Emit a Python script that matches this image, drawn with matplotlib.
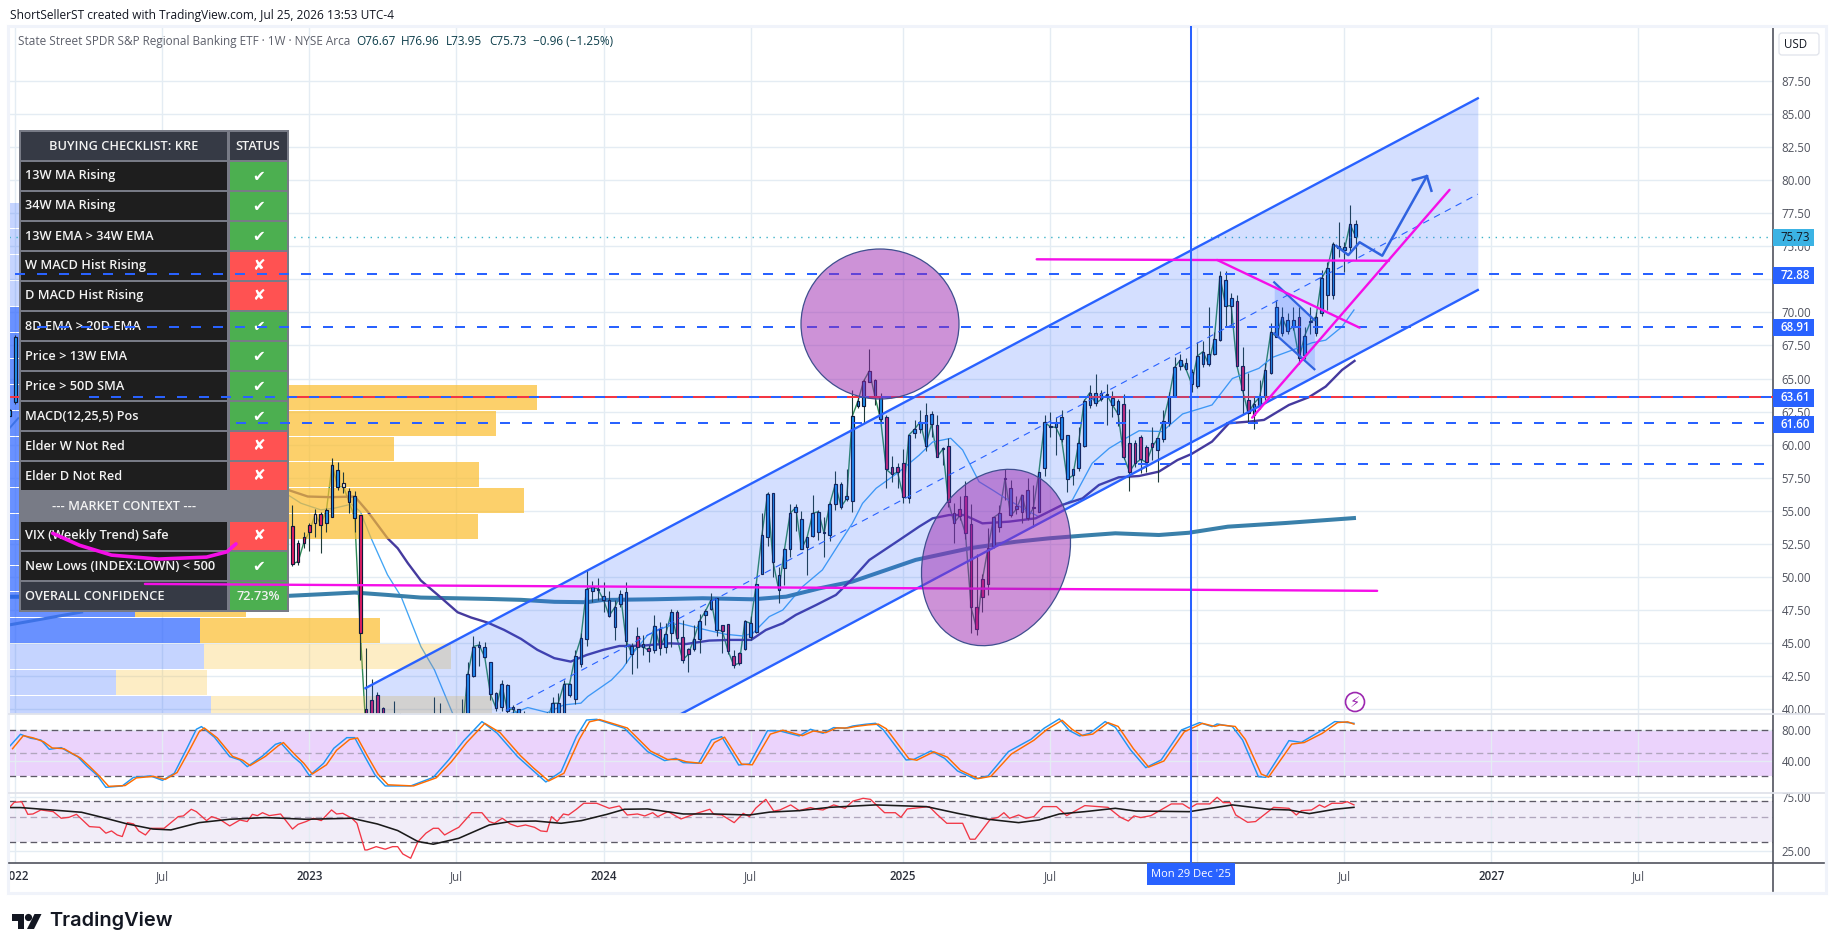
import matplotlib
matplotlib.use("Agg")
import matplotlib.pyplot as plt
from matplotlib.patches import Rectangle, Ellipse, Circle, Polygon, FancyBboxPatch
from matplotlib.transforms import Bbox

plt.rcParams['font.family'] = ['Open Sans', 'DejaVu Sans']

# ---------- weekly candles ----------
candle_weeks = [-1, 0] + list(range(49, 238))
opens = [62.60, 63.20,
 53.86,52.55,53.00,53.91,54.06,54.74,54.06,54.56,58.07,57.09,
 56.50,56.10,54.67,40.00,40.70,41.10,40.10,38.00,38.20,38.50,
 37.60,37.00,36.50,36.00,37.00,38.60,39.60,38.90,37.90,38.10,
 38.00,38.00,42.50,44.74,44.74,43.55,41.20,40.20,41.80,40.15,
 40.00,39.50,38.50,38.90,38.30,38.90,39.20,39.70,39.60,41.10,
 40.80,43.40,45.30,48.97,49.00,48.54,48.26,46.25,47.96,48.84,
 44.80,45.50,44.90,44.60,44.48,46.07,44.73,45.74,47.38,45.49,
 44.53,44.53,45.34,47.10,47.60,48.39,46.34,46.44,44.03,44.28,
 44.53,45.49,45.87,50.20,53.00,56.32,50.12,50.65,52.10,54.89,
 54.36,52.29,53.12,53.42,53.40,53.17,55.50,57.03,56.10,55.77,
 62.95,62.95,64.76,64.89,63.63,62.06,58.30,58.29,58.60,56.00,
 60.90,61.16,62.24,62.30,61.49,59.67,59.92,54.80,55.10,56.14,
 53.97,47.70,48.46,49.44,52.36,53.80,57.37,56.70,55.36,54.88,
 56.57,55.25,54.93,58.26,61.36,61.73,62.06,60.70,58.13,58.21,
 59.92,63.00,63.88,63.93,63.75,63.50,63.30,63.07,60.10,60.10,
 60.55,59.85,60.15,59.59,60.40,61.66,63.68,65.97,66.15,65.50,
 64.44,66.08,66.83,66.83,67.91,72.45,71.06,70.84,65.97,63.38,
 62.25,62.93,63.58,65.40,70.40,68.47,69.42,69.43,69.63,66.78,
 69.25,68.47,69.93,71.32,71.32,75.00,74.97,74.97,76.67]
highs = [62.70, 68.30,
 55.45,52.80,53.43,54.06,55.12,54.94,55.20,58.97,58.70,57.90,
 56.70,56.50,54.70,44.61,42.30,41.30,40.20,39.50,40.60,39.70,
 38.50,38.30,37.50,37.50,39.00,40.96,40.50,39.60,38.90,39.70,
 40.80,43.60,45.55,45.17,45.10,43.55,41.30,42.20,41.90,40.30,
 40.05,39.90,39.50,39.60,39.30,39.80,40.96,41.20,42.20,42.00,
 44.50,45.80,50.53,49.70,49.90,49.65,48.90,48.26,49.00,49.65,
 45.00,46.25,45.60,44.85,47.13,46.60,46.50,47.55,47.50,46.75,
 44.60,46.40,47.20,47.55,48.76,48.40,46.34,46.45,44.48,44.30,
 46.75,47.05,49.50,54.80,56.45,56.37,50.78,52.17,55.50,55.50,
 55.00,53.00,56.20,55.06,54.56,55.70,58.00,57.20,58.13,64.13,
 63.60,65.00,67.23,65.00,63.88,62.24,59.17,58.60,59.67,60.73,
 61.86,62.60,63.12,62.54,62.24,59.85,60.48,55.60,56.10,57.25,
 55.50,51.70,50.20,53.67,54.55,55.44,58.16,57.33,56.10,56.20,
 57.50,56.95,57.96,62.24,62.44,62.10,62.60,60.70,58.13,61.36,
 63.42,64.50,65.34,64.10,64.58,64.08,63.42,63.83,62.67,60.35,
 60.73,59.97,61.30,60.48,62.62,64.00,66.65,66.83,66.58,65.70,
 67.79,67.86,70.43,68.54,73.13,73.13,71.44,71.32,67.40,65.39,
 63.63,64.89,66.15,69.17,70.94,70.43,69.93,70.43,70.43,68.92,
 70.43,70.06,73.20,73.83,75.35,76.86,75.35,78.12,76.96]
lows = [62.20, 63.10,
 50.83,50.90,52.17,51.97,53.00,51.79,53.36,54.50,56.60,56.33,
 54.87,53.36,43.73,37.00,37.50,37.50,37.20,37.00,37.80,37.00,
 36.50,35.80,35.50,35.30,36.60,38.30,38.40,37.40,37.20,37.80,
 37.50,37.80,42.45,43.28,43.90,40.70,39.90,39.90,39.50,39.70,
 38.90,38.20,37.90,38.00,37.70,38.20,38.80,39.40,39.20,40.90,
 40.40,43.20,44.78,48.13,48.26,47.38,47.00,45.24,47.70,43.52,
 42.67,43.10,44.10,43.60,44.23,44.10,44.23,44.73,45.20,43.52,
 42.84,44.40,44.28,46.40,47.50,45.50,44.28,44.20,43.10,43.35,
 44.48,45.20,45.80,50.20,52.37,50.00,48.06,49.40,51.50,53.50,
 52.09,50.15,53.05,52.80,51.50,52.70,55.06,55.10,55.74,54.93,
 62.80,61.66,64.76,63.00,61.61,56.70,57.20,56.70,55.56,55.60,
 60.50,60.90,59.55,60.60,59.09,58.46,55.30,52.54,54.30,52.90,
 45.74,45.60,47.37,48.63,52.20,53.42,55.81,54.50,54.76,54.05,
 54.30,53.80,54.90,57.63,60.60,59.20,60.20,56.44,56.95,58.00,
 59.80,62.75,62.90,63.30,61.48,62.10,61.40,58.90,56.52,58.30,
 57.83,57.96,58.84,57.20,60.20,61.40,63.58,65.65,65.65,64.00,
 64.30,65.90,65.95,66.79,67.85,68.92,69.00,65.97,62.25,61.60,
 61.16,62.70,63.40,65.32,68.17,68.20,68.40,68.70,66.10,66.50,
 68.40,68.20,69.75,70.18,71.00,74.20,73.08,74.60,73.95]
closes = [62.20, 68.10,
 50.99,51.16,52.60,53.43,54.74,53.96,55.04,58.47,56.83,56.83,
 55.65,54.49,45.75,38.30,38.50,38.20,37.80,38.30,39.00,37.60,
 37.00,36.50,36.00,37.00,38.60,39.60,38.90,37.90,38.10,39.30,
 38.20,42.65,44.74,44.86,43.93,41.14,40.08,41.90,39.90,40.05,
 39.50,38.50,38.90,38.30,38.90,39.10,40.45,40.45,41.90,41.90,
 44.03,45.37,49.07,49.22,49.10,48.26,47.08,47.70,48.69,45.19,
 44.20,44.73,44.73,44.43,46.32,44.66,45.67,47.33,45.36,43.73,
 44.15,45.34,46.70,47.40,48.26,46.00,45.92,44.43,43.35,43.47,
 46.65,46.50,49.44,53.15,56.27,51.10,48.99,52.09,54.81,55.26,
 52.09,53.00,54.81,54.94,53.30,55.52,57.03,55.30,55.92,62.17,
 63.30,64.81,65.57,63.63,61.91,58.13,57.76,57.91,56.07,60.73,
 61.16,61.74,59.92,61.56,59.09,59.67,55.64,54.10,54.63,53.30,
 47.70,46.04,49.82,52.21,54.50,54.80,57.45,54.65,55.10,56.20,
 54.48,55.20,57.96,61.68,61.36,61.30,60.40,57.38,57.67,60.10,
 63.30,63.93,63.12,63.42,63.75,63.00,62.30,59.09,57.96,58.58,
 58.89,58.66,59.80,60.48,61.81,63.57,65.85,66.40,65.70,64.60,
 66.70,67.03,66.08,67.96,72.75,70.48,70.51,65.97,64.14,62.37,
 63.10,63.58,65.65,68.50,68.17,69.63,68.62,68.92,66.53,68.24,
 69.25,69.68,72.58,73.33,75.17,74.85,74.72,76.66,75.73]
pink_weeks = [49,50,51,52,54,61,62,63,64,65,68,69,70,71,76,110,112,114,117,118,119,125,126,127,128,
              154,155,156,157,163,165,167,168,169,170,171,172,196,197,198,199,200,201,216,217,218,227]
white_weeks = [53, 58]

# ---------- moving averages (week, price) ----------
ma34_w = [48.2,51.7,55.8,60,62.3,65.8,67.6,69.4,71.7,74.7,78.2,80.6,83.5,86.4,89.4,92.3,95.3,98.2,
          101,103.9,106.8,111,115.7,118.6,122.7,126.3,130.1,132.7,135.7,138,141.6,145.1,148.1,151,
          156.3,159.8,162.2,165.1,167.8,171,175.7,180.4,185.1,188.7,191.6,195.1,198.7,202.2,205.5,208,211.6,214.6,218.1,220.8,225.2,228.7,231.7,234.6,236.8]
ma34_p = [56.58,56.08,56.03,56.08,54.94,52.93,52.17,51.04,49.73,48.64,47.33,46.93,46.55,46.0,45.32,44.49,43.86,43.6,
          44.1,44.48,44.78,44.81,44.98,44.93,45.19,45.24,45.24,45.99,46.5,47.13,47.88,48.64,49.9,51.28,
          52.79,53.8,54.43,54.68,54.68,54.05,54.18,54.43,55.44,55.94,56.95,57.53,57.63,57.96,58.84,59.3,60.23,61.62,61.74,61.87,63.0,63.58,64.39,65.65,66.33]
ma13_w = [48.2,50.5,54,56.4,59.4,61,62.9,65.8,68.2,71.7,74.1,77.3,80,84,87,88.8,90.6,94.1,97,100,101.2,
          105.4,107.4,109.2,111.8,115.1,117.4,119.8,122.7,125.7,128.6,130.4,133.3,135.7,139.2,142.7,145.7,148,
          149.8,152.2,156.3,159.8,162.2,165.4,167.5,170.4,172.8,175.1,178.7,181,185.1,186.9,190.4,193.4,196.3,198.7,
          202.8,206.4,211.6,215.2,219.9,222.3,229.3,231.7,234.6,236.7]
ma13_p = [56.2,55.57,55.07,55.2,55.5,54.94,52.93,50.16,48.52,44.74,42.98,39.7,38.5,38.8,39.6,39.83,40.13,39.75,40.33,40.46,40.96,
          42.21,43.1,44.23,45.61,46.24,46.5,46.24,45.94,45.66,45.54,45.74,47.0,47.5,49.27,50.53,52.54,54.05,
          55.56,56.7,57.96,59.2,60.2,60.48,59.6,57.2,56.57,55.94,55.06,54.55,55.44,55.81,58.59,59.72,60.47,61.05,
          60.99,62.32,63.0,65.0,65.77,66.6,67.7,67.9,68.92,70.18]
ma200_w = [-1.2,48.2,54,60,65.8,71.7,77.6,83.5,89.4,95.3,101,103.9,112.7,121.5,130.4,136.3,142.2,148,159.2,169,176.9,182.8,188.7,194.5,202.2,207.5,214.4,224.7,236.7]
ma200_p = [48.5,48.57,48.69,48.82,48.64,48.44,48.39,48.34,48.27,48.12,48.09,48.26,48.31,48.39,48.31,48.51,49.14,49.65,51.29,52.19,52.66,52.92,53.12,53.3,53.17,53.34,53.8,54.08,54.45]

# ---------- volume profile (row ends, in weeks) ----------
vp_top = 78.27
vp_step = 1.958
vp_buy_end = [8,8,9,10,18,19,20,24,22,20,24,26,24,20,18,21.1,32.6,33.4,17.8,34.6]
vp_sell_end = [18,18,20,20,38,38,38,92.2,85,67,82,90,81.8,32.6,41.5,40.8,64.5,77,33.9,84.3]
vp_in_value_area = [0,0,0,0,1,1,1,1,1,1,1,1,1,1,1,1,1,0,0,0]

# ---------- stochastic ----------
k_w = [-0.9,0.9,2.7,4.5,6,8.1,9.5,11,12.6,14.4,16,18.9,20.9,23.9,26,28.1,30.2,32,32.9,35.2,37.9,39.7,41,43.7,46,46.9,49.1,50.5,52,54.5,56.3,58.6,60,61.8,63.6,65.4,69.9,73.9,76.6,79.3,82.5,85.2,88.8,91.1,93.8,96.5,99.2,101,102.8,105.5,107.7,111.8,114.8,116.8,118.1,120.8,123.1,124.9,127.9,129.8,133,135.2,138.6,140.6,142.8,144.7,146.7,148.1,150.3,152.1,153.5,157.5,158.9,161.9,164.3,166.6,169.7,172,175.6,179.6,181.9,184.6,186.4,188.2,190,192.7,194.5,197.2,199.9,202.6,206.2,209.4,211.6,212.5,215.2,217,219.8,221.1,225.2,227.4,230.6,233.3,235.1,236.7]
k_v = [60,74.8,69.6,67.4,55.2,57.4,51.3,45.7,33.5,21.8,5.7,7.5,18.7,20.5,14.8,24,54.4,81.3,84.8,70.9,45.7,41.3,32.6,46.5,61.7,63.9,45.7,37,20.9,37,56.5,70.4,70.4,45.7,21.8,7.5,7.5,18.7,41.3,66.5,91.3,76.1,45.7,30.5,12.7,26.1,71.7,93.4,94.3,87.8,82.6,52.2,40.5,43.5,37.9,37,67.4,71.7,34.8,36.1,79.5,79.1,72.6,81.3,76.1,83.5,82.6,85.6,87.8,89.1,80.4,41.3,42.2,53.1,43.5,27,16.6,20.5,52.2,68.3,82.6,94.8,79.5,72.6,76.1,91.3,83.9,54.4,31.3,41.3,80.4,90,84.8,88.2,84.8,67.4,19.6,18.7,66.5,64.3,78.2,91.3,90.4,89.1]
d_w = [-0.5,1.4,3.2,5,6.5,8.6,10,11.5,13.1,14.9,16.5,19.4,21.4,24.4,26.5,28.6,30.7,32.5,33.4,35.7,38.4,40.2,41.5,44.2,46.5,47.4,49.6,51,52.5,55,56.8,59.1,60.5,62.3,64.1,65.9,70.4,74.4,77.1,79.8,83,85.7,89.3,91.6,94.3,97,99.7,101.5,103.3,106,108.2,112.3,115.3,117.3,118.6,121.3,123.6,125.4,128.4,130.3,133.5,135.7,139.2,141.1,143.3,145.2,147.2,148.6,150.8,152.6,154,158,159.4,162.4,164.8,167.1,170.2,172.5,176.1,180.1,182.4,185.1,186.9,188.7,190.5,193.2,195,197.7,200.4,203.1,206.7,209.9,212.1,213,215.7,217.5,220.3,221.6,225.7,227.9,231.1,233.8,235.6,236.7]
d_v = [56,73,70,65,57,56,50,44,33,20,7,8,18,20,16,25,53,78,83,70,46,41,34,46,60,64,47,37,23,35,54,68,70,46,23,9,7.5,18,39,64,89,77,47,31,14,24,68,91,94,88,83,53,42,42,39,37,64,71,36,35,75,80,73,79,77,83,83,85,87,88,82,43,41,52,45,28,17,20,49,67,81,93,81,73,75,90,85,56,32,40,78,89,85,87,85,68,23,19,62,64,76,90,91,88]

# ---------- RSI ----------
rsi_w = [-0.9,-0.2,1.1,2.2,3.1,4.5,6.7,8.1,9.5,10.8,13.1,14.9,16,17,18,18.9,19.8,20.9,21.8,23,24,26.3,28.8,29.7,31.1,32,33.8,34.7,36.1,37.9,39.7,41,41.9,42.8,43.7,44.9,46.9,49,50,51.4,52.7,54.1,55.9,56.8,57.9,59.5,60.4,61.8,62.2,63.8,65.4,66.7,67.6,68.5,69.9,71.2,72.6,73.9,74.8,75.9,77.5,78.4,80.7,82.5,83.8,84.7,86.1,87.5,88.8,90.2,91.8,92.9,94,94.8,95.8,96.9,97.8,99.2,100.5,102.8,105,106.8,108.2,110,111.3,112.7,113.6,115.4,117.7,119.9,122.8,123.5,124.9,127.1,128.7,129.8,130.9,132.7,134.1,135.2,137.1,138.6,140.6,141.8,142.8,144.7,146.7,148.1,149.9,151.2,153.7,155.6,156.6,157.7,161.6,162.9,164.7,167.5,168.8,169.7,172.4,173.8,174.8,175.8,177.4,178.7,180.1,181.7,184.1,185.9,189.1,193.2,195.4,196.8,197.8,199,200.8,204.4,206.4,207.6,208.9,211.2,212.5,213.6,214.8,215.8,217.9,219.3,222.5,225.2,226.5,227.4,229.2,230.6,231.5,232.8,234.6,235.5,236.7]
rsi_v = [62.2,67.9,68.8,53.1,53.5,58.1,56.1,49,50,53.1,41.3,40.7,36.1,37.8,34.8,33.7,44.8,43.6,37.8,34.8,39.9,39.9,50.7,51.4,58.9,56.1,46.7,50.7,48,41.9,47.3,45.8,53.1,51.7,54.9,51.7,53.5,39.3,43.3,45.8,49,46.7,58.1,53.5,54.2,49,44.2,25.6,25.6,27.4,26,27.4,27.4,23.6,21.6,30.4,36.1,39.9,39.9,34.8,38.6,40.7,54.9,54.9,45.8,44.2,49,43.6,41.3,42.7,40.7,37.8,37.3,50.7,45.8,53.5,52.4,58.9,66.6,66.6,60.1,63,52.4,53.5,51.4,54.9,50.7,56.1,48.3,53.1,58.9,53.1,52.4,44.8,54.2,50.7,60.1,72.2,56.8,58.1,64.4,57.3,61,58.9,58.1,64.4,60.1,69.7,73.7,72.2,54.9,54.9,50,59.3,62.2,53.5,44.2,44.2,31.9,31.9,48,50,54.9,49,52.4,49,50.7,62.2,62.2,51.7,63.5,61.3,50,46.3,51.4,49.7,51.7,65.7,65.7,60.1,65.7,65.7,75.3,67.5,67.5,52.4,45.1,45.8,61.3,60.1,52.4,57.3,58.1,64.4,61.3,66.6,66.6,68.8,64.4]
rsi_ma_w = [-0.9,0.9,11.7,15.3,19.8,24.3,27.5,32.5,37.9,44.2,51.4,59.5,64,67.6,71.2,73.9,78.4,83.8,87.5,92,96.5,100.1,104.6,107.7,111.8,118.1,123.5,129.8,133.4,138.7,144,152.1,161.1,166.6,172,177.4,181,184.6,189.1,194.5,198.1,207.6,215.2,221.6,225.2,228.8,233.3,236.7]
rsi_ma_v = [61,61,55.4,50,43.6,39.3,38.6,44.8,48,49.7,48,49,43.6,38.1,30.4,28.8,32.5,42.7,45.8,46.3,44.2,46.7,53.1,58.9,59.3,53.5,53.5,52.4,55.6,57.3,61.3,64.4,62.2,54.2,48,44.8,47.3,53.5,56.1,60.1,56.8,56.1,64.4,58.9,58.1,53.9,58.9,61.3]

# ---------- levels, drawings ----------
level_prices = [72.88, 68.91, 63.61, 61.60, 58.57]
level_start_weeks = [0, 3.8, 13, 39, 190.7]
channel_weeks = [61.9, 258.6]
channel_top = [41.59, 86.18]
channel_bottom = [26.95, 71.69]
long_magenta_w, long_magenta_p = [22.9, 240.8], [49.47, 48.95]
neck_magenta_w, neck_magenta_p = [180.6, 242.9], [74.01, 73.9]
down_magenta_w, down_magenta_p = [212.5, 237.7], [73.96, 68.84]
up_magenta_w, up_magenta_p = [218.7, 253.6], [62.04, 79.26]
vix_curve_w = [6.6,11.3,17,25.3,33.8,37.4,39]
vix_curve_p = [53.3,52.4,51.65,51.35,51.5,51.9,52.5]
flag_w = [222.6, 229.7]
flag_top = [72.27, 69.42]
flag_bottom = [68.42, 65.7]
path_w = [233.6, 235.7, 237.7, 241.7, 249.6]
path_p = [75.02, 74.33, 75.3, 74.28, 80.3]
head_w = [247.1, 249.6, 250.4]
head_p = [80.0, 80.3, 79.19]
old_line_w, old_line_p = [-1.13, 11.7], [46.37, 47.35]
old_stub_w, old_stub_p = [-1.13, 0.5], [61.2, 62.0]

tick_weeks = [0,26,52,78,104,130,157,183,209,235,261,287]
tick_labels = ['2022','Jul','2023','Jul','2024','Jul','2025','Jul','','Jul','2027','Jul']
price_ticks = [40,42.5,45,47.5,50,52.5,55,57.5,60,62.5,65,67.5,70,72.5,75,77.5,80,82.5,85,87.5]
price_tags = [(75.73,'#3bb3e4','#131722'),(72.88,'#2962ff','white'),(68.91,'#2962ff','white'),
              (63.61,'#2962ff','white'),(61.60,'#2962ff','white')]

checklist_labels = ['13W MA Rising','34W MA Rising','13W EMA > 34W EMA','W MACD Hist Rising','D MACD Hist Rising',
                    '8D EMA > 20D EMA','Price > 13W EMA','Price > 50D SMA','MACD(12,25,5) Pos','Elder W Not Red','Elder D Not Red']
checklist_ok = [1,1,1,0,0,1,1,1,1,0,0]
context_labels = ['VIX (Weekly Trend) Safe','New Lows (INDEX:LOWN) < 500']
context_ok = [0,1]

# ---------- layout ----------
W, H = 1835, 951
L, R = 9, 1773
XLIM = (-1.13, 310.8)
GRID = '#e4ecf3'
BLUE = '#2962ff'
AXC = '#50535e'
TXT = '#50535e'
MAG = '#f50fe8'

def axbox(top, bot):
    return [L/W, 1-bot/H, (R-L)/W, (bot-top)/H]

fig = plt.figure(figsize=(W/100, H/100), dpi=100, facecolor='white')
ax = fig.add_axes(axbox(27, 714), zorder=1)
ax_st = fig.add_axes(axbox(714, 793), zorder=1)
ax_rs = fig.add_axes(axbox(793, 863), zorder=1)

for a in (ax, ax_st, ax_rs):
    a.set_xlim(*XLIM)
    a.set_xticks(tick_weeks)
    a.grid(True, color=GRID, lw=1.0, zorder=0)
    a.set_axisbelow(True)
    for s in ('top', 'left', 'bottom'):
        a.spines[s].set_visible(False)
    a.spines['right'].set_color(AXC)
    a.spines['right'].set_linewidth(1.2)
    a.yaxis.tick_right()
    a.tick_params(axis='y', length=0, pad=6, labelsize=8.3, labelcolor=TXT)
    a.tick_params(axis='x', length=0, labelbottom=False)

# main pane
ax.set_ylim(39.64, 91.57)
ax.set_yticks(price_ticks)
ax.set_yticklabels([f'{v:.2f}' for v in price_ticks])

vis = [i for i, w in enumerate(candle_weeks) if w >= 49]
ax.plot([candle_weeks[i] for i in vis], [closes[i] for i in vis], color='#2e8b57', lw=1.0, zorder=1.2)
ax.plot(ma13_w, ma13_p, color='#42a5f5', lw=0.95, zorder=1.3)
ax.plot(ma200_w, ma200_p, color='#3a80aa', lw=2.9, zorder=1.4)
ax.plot(ma34_w, ma34_p, color='#453a9e', lw=1.7, zorder=1.5)

for n, (b, s, va) in enumerate(zip(vp_buy_end, vp_sell_end, vp_in_value_area)):
    yc = vp_top - (n + .5) * vp_step
    al = 0.7 if va else 0.27
    ax.barh(yc, b - XLIM[0], left=XLIM[0], height=vp_step*0.96, color='#2962ff', alpha=al, lw=0, zorder=2)
    ax.barh(yc, s - b, left=b, height=vp_step*0.96, color='#fbbd2c', alpha=al, lw=0, zorder=2)
ax.plot(old_line_w, old_line_p, color='#3d72e6', lw=2.2, zorder=2.2)
ax.plot(old_stub_w, old_stub_p, color='#3d72e6', lw=1.4, zorder=2.2)

for w, o, h, l, c in zip(candle_weeks, opens, highs, lows, closes):
    col = '#e91e63' if w in pink_weeks else ('#fdf3dc' if w in white_weeks else '#2196f3')
    ax.vlines(w, l, h, color='#1f3a38', lw=0.8, zorder=3)
    ax.bar(w, max(abs(c-o), 0.08), bottom=min(o, c), width=0.46, color=col, edgecolor='#10183a', lw=0.85, zorder=3.1)

# support level and last-price line sit under the table
ax.hlines(63.61, XLIM[0], XLIM[1], color='#f23645', lw=1.45, zorder=3.5)
ax.hlines(75.73, XLIM[0], XLIM[1], color='#3bb3c9', lw=1.0, linestyles=(0, (1, 4)), zorder=3.5)

# stochastic pane
ax_st.set_ylim(-1.69, 101.2)
ax_st.set_yticks([40, 80])
ax_st.set_yticklabels(['40.00', '80.00'])
ax_st.axhspan(20, 80, color='#9c27f0', alpha=0.2, lw=0, zorder=0.5)
for v, c in ((80, '#5d5a66'), (50, '#b0a6bd'), (20, '#5d5a66')):
    ax_st.axhline(v, color=c, lw=0.95, ls=(0, (5, 3)), zorder=1)
ax_st.plot(k_w, k_v, color='#2196f3', lw=1.05, zorder=2)
ax_st.plot(d_w, d_v, color='#ff6d00', lw=1.05, zorder=2.1)

# RSI pane (log scale)
ax_rs.set_yscale('log')
ax_rs.set_ylim(19.6, 82.2)
ax_rs.minorticks_off()
ax_rs.set_yticks([25, 75])
ax_rs.set_yticklabels(['25.00', '75.00'])
ax_rs.minorticks_off()
ax_rs.axhspan(30, 70, color='#7e57c2', alpha=0.1, lw=0, zorder=0.5)
for v, c in ((70, '#5d5a66'), (50, '#b0a6bd'), (30, '#5d5a66')):
    ax_rs.axhline(v, color=c, lw=0.95, ls=(0, (5, 3)), zorder=1)
ax_rs.plot(rsi_w, rsi_v, color='#f23645', lw=0.95, zorder=2)
ax_rs.plot(rsi_ma_w, rsi_ma_v, color='#1a1a1a', lw=1.15, zorder=2.1)
for t in ax_rs.get_yticklabels():
    t.set_clip_on(True)
    t.set_clip_box(Bbox([[R, H-863], [W, H-793]]))

# time axis labels
ax_rs.tick_params(axis='x', labelbottom=True, pad=5, labelsize=8.3)
ax_rs.set_xticklabels(tick_labels)
for t, lab in zip(ax_rs.get_xticklabels(), tick_labels):
    year = lab.isdigit()
    t.set_color('#2a2e39' if year else TXT)
    t.set_fontweight('semibold' if year else 'normal')
    t.set_clip_on(True)
    t.set_clip_box(Bbox([[L, 0], [R, H]]))

# ---------- pixel overlay 1: table ----------
tb = fig.add_axes([0, 0, 1, 1], zorder=2, facecolor='none')
tb.set_xlim(0, W); tb.set_ylim(H, 0); tb.axis('off')
def rect(a, x0, y0, x1, y1, c, **kw):
    a.add_patch(Rectangle((x0, y0), x1-x0, y1-y0, facecolor=c, edgecolor='none', **kw))
rect(tb, 18.5, 130, 288.5, 612, '#787b86')
XA, XB, XC, XD = 20.5, 227, 229.5, 287
TFS = 9.2
TW = 'semibold'
def row_y(i):
    return 132+30*i, 160+30*i
def cell(i, label, ok=None, left='#1e1e1e'):
    y0, y1 = row_y(i)
    rect(tb, XA, y0, XB, y1, left)
    tb.text(25, (y0+y1)/2, label, color='#f2f2f2', fontsize=TFS, fontweight=TW, va='center', ha='left')
    if ok is not None:
        rect(tb, XC, y0, XD, y1, '#4caf50' if ok else '#ff5252')
        tb.text((XC+XD)/2, (y0+y1)/2, '✔' if ok else '✘', color='white', fontsize=11,
                family='DejaVu Sans', va='center', ha='center')
y0, y1 = row_y(0)
rect(tb, XA, y0, XB, y1, '#363a45'); rect(tb, XC, y0, XD, y1, '#363a45')
tb.text(124, (y0+y1)/2, 'BUYING CHECKLIST: KRE', color='#f2f2f2', fontsize=TFS, fontweight=TW, ha='center', va='center')
tb.text(258, (y0+y1)/2, 'STATUS', color='#f2f2f2', fontsize=TFS, fontweight=TW, ha='center', va='center')
for i, (lab, ok) in enumerate(zip(checklist_labels, checklist_ok)):
    cell(i+1, lab, ok)
y0, y1 = row_y(12)
tb.text(124, (y0+y1)/2, '--- MARKET CONTEXT ---', color='#f2f2f2', fontsize=TFS, fontweight=TW, ha='center', va='center')
for i, (lab, ok) in enumerate(zip(context_labels, context_ok)):
    cell(13+i, lab, ok)
y0, y1 = row_y(15)
rect(tb, XA, y0, XB, y1, '#363a45'); rect(tb, XC, y0, XD, y1, '#4caf50')
tb.text(25, (y0+y1)/2, 'OVERALL CONFIDENCE', color='#f2f2f2', fontsize=TFS, fontweight=TW, va='center')
tb.text((XC+XD)/2, (y0+y1)/2, '72.73%', color='#f2f2f2', fontsize=TFS, fontweight=TW, ha='center', va='center')

# ---------- drawings over the table ----------
dr = fig.add_axes(axbox(27, 714), zorder=3, facecolor='none')
dr.set_xlim(*XLIM); dr.set_ylim(*ax.get_ylim()); dr.axis('off')
dr.fill_between(channel_weeks, channel_bottom, channel_top, color=BLUE, alpha=0.2, lw=0, zorder=1)
dr.plot(channel_weeks, channel_top, color=BLUE, lw=1.7, zorder=2)
dr.plot(channel_weeks, channel_bottom, color=BLUE, lw=1.7, zorder=2)
dr.plot(channel_weeks, [(a+b)/2 for a, b in zip(channel_top, channel_bottom)], color=BLUE, lw=0.8,
        ls=(0, (6, 5)), zorder=2)
for p, s in zip(level_prices, level_start_weeks):
    e = XLIM[1] if p == 63.61 else 309.3
    dr.plot([s, e], [p, p], color=BLUE, lw=1.44, ls=(0, (5, 6)), zorder=3)
for xs, ys in ((long_magenta_w, long_magenta_p), (neck_magenta_w, neck_magenta_p),
               (down_magenta_w, down_magenta_p), (up_magenta_w, up_magenta_p)):
    dr.plot(xs, ys, color=MAG, lw=1.7, solid_capstyle='round', zorder=4)
dr.plot(vix_curve_w, vix_curve_p, color=MAG, lw=2.6, solid_capstyle='round', zorder=4)
dr.fill_between(flag_w, flag_bottom, flag_top, color=BLUE, alpha=0.2, lw=0, zorder=2)
dr.plot(flag_w, flag_top, color='#2f63e0', lw=1.6, zorder=3)
dr.plot(flag_w, flag_bottom, color='#2f63e0', lw=1.6, zorder=3)
dr.plot(path_w, path_p, color='#2f63e0', lw=1.8, zorder=4)
dr.plot(head_w, head_p, color='#2f63e0', lw=1.8, zorder=4)

# ---------- pixel overlay 2 ----------
px = fig.add_axes([0, 0, 1, 1], zorder=4, facecolor='none')
px.set_xlim(0, W); px.set_ylim(H, 0); px.axis('off')
px.add_patch(Ellipse((880, 324), 158, 150, facecolor='#9c27b0', alpha=0.5, edgecolor='none', zorder=2))
px.add_patch(Ellipse((880, 324), 158, 150, facecolor='none', edgecolor='#3f4f8f', lw=0.9, zorder=2.1))
px.add_patch(Ellipse((996, 557.5), 181.8, 142.4, angle=-67.1, facecolor='#9c27b0', alpha=0.5, edgecolor='none', zorder=2))
px.add_patch(Ellipse((996, 557.5), 181.8, 142.4, angle=-67.1, facecolor='none', edgecolor='#3f4f8f', lw=0.9, zorder=2.1))
# crosshair / date marker
px.plot([1191, 1191], [27, 863], color=BLUE, lw=1.45, zorder=3)
rect(px, 1147, 863, 1235, 885, BLUE, zorder=5)
px.text(1191, 874.5, "Mon 29 Dec '25", color='white', fontsize=8.0, ha='center', va='center', zorder=6)
# pane separators, time axis line, frame
for y in (714, 793):
    px.plot([L, 1824], [y, y], color='#e0e3eb', lw=1.3, zorder=1)
px.plot([L, 1824], [863, 863], color=AXC, lw=1.2, zorder=1)
px.plot([R, R], [863, 891], color=AXC, lw=1.2, zorder=1)
px.add_patch(Rectangle((8, 26), 1818, 867, facecolor='none', edgecolor='#f0f3fa', lw=2.2, zorder=0.5))
# price tags
for price, bg, fg in price_tags:
    yc = 709.3 - (price - 40) * 13.23 + 1
    rect(px, R, yc-8.6, 1814, yc+8.6, bg, zorder=5)
    px.text(1795.5, yc, f'{price:.2f}', color=fg, fontsize=8.3, ha='center', va='center',
            fontweight='semibold' if fg == 'white' else 'normal', zorder=6)
# currency button
px.add_patch(FancyBboxPatch((1779, 33), 40, 22, boxstyle='round,pad=0,rounding_size=3', facecolor='white',
                            edgecolor='#e0e3eb', lw=0.9, zorder=5))
px.text(1796, 44.5, 'USD', color='#131722', fontsize=8.3, ha='center', va='center', zorder=6)
# header text
px.text(9.5, 15, 'ShortSellerST created with TradingView.com, Jul 25, 2026 13:53 UTC-4', color='#131722',
        fontsize=8.55, va='center')
px.text(18, 41.5, 'State Street SPDR S&P Regional Banking ETF · 1W · NYSE Arca', color='#5d606b', fontsize=8.5, va='center')
for x, s in ((356.7, 'O76.67'), (401.3, 'H76.96'), (446, 'L73.95'), (489, 'C75.73'), (533.4, '−0.96 (−1.25%)')):
    px.text(x, 41.5, s, color='#0c3d4a', fontsize=8.5, va='center')
# alert icon
px.add_patch(Circle((1355, 702), 9.5, facecolor='white', edgecolor='#9c27b0', lw=1.2, zorder=4))
px.text(1355, 702, '⚡', color='#9c27b0', fontsize=10.5, family='DejaVu Sans', ha='center', va='center', zorder=5)
# logo
rect(px, 12, 914, 24, 921, '#131722')
rect(px, 18, 914, 24, 929, '#131722')
px.add_patch(Circle((28.5, 917.5), 3.6, facecolor='#131722', edgecolor='none'))
px.add_patch(Polygon([[34.5, 914], [41.5, 914], [34, 929], [27, 929]], facecolor='#131722', edgecolor='none'))
px.text(49, 921, 'TradingView', color='#131722', fontsize=14.4, fontweight='semibold', family='Inter', va='center')

fig.savefig('out.png', dpi=100, facecolor='white')
